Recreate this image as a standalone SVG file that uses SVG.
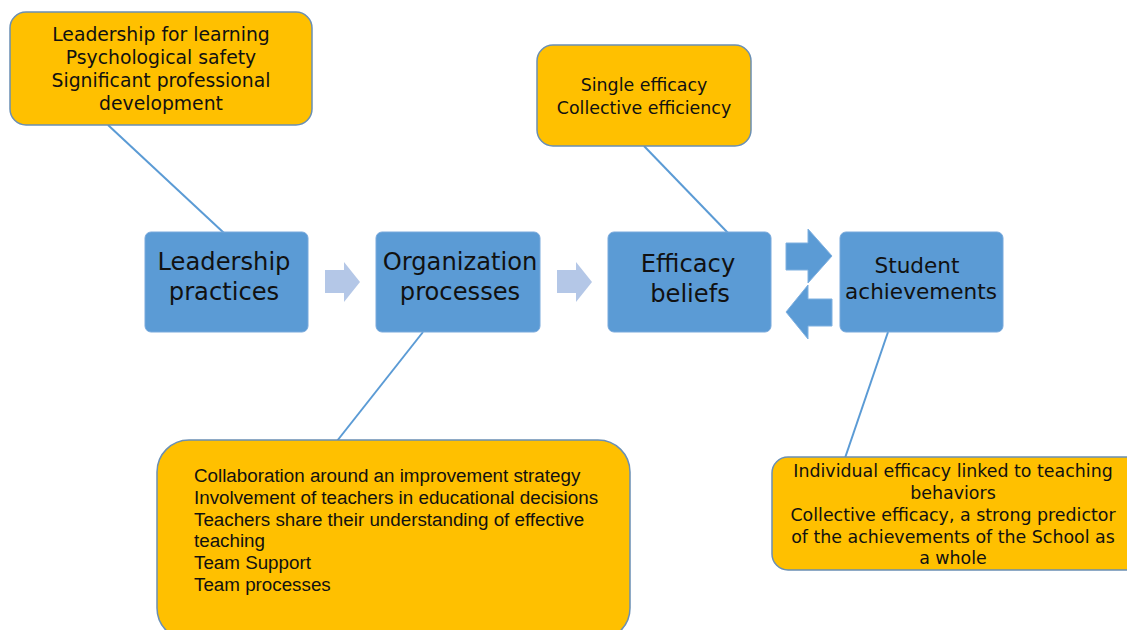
<svg xmlns="http://www.w3.org/2000/svg" width="1127" height="630" viewBox="0 0 1127 630">
<style>
.call{fill:#ffc000;stroke:#6a8fb4;stroke-width:1.5}
.box{fill:#5b9bd5;stroke:#79a9dc;stroke-width:1}
.t{font-family:"DejaVu Sans",sans-serif;fill:#111;text-anchor:middle}
.ta{font-family:"Liberation Sans",Arial,sans-serif;fill:#111;font-size:18.8px}
.conn line{stroke:#5b9bd5;stroke-width:2}
.la{fill:#b4c7e7}
.da{fill:#5b9bd5;stroke:#7fb0e0;stroke-width:1}
</style>
<rect width="1127" height="630" fill="#fff"/>
<g id="connectors" class="conn">
<line x1="108" y1="125" x2="224" y2="233"/>
<line x1="644" y1="146" x2="728" y2="233"/>
<line x1="423" y1="332" x2="337" y2="441"/>
<line x1="888" y1="332" x2="845" y2="458"/>
</g>
<g id="arrows">
<path class="la" d="M325 270 H344 V262 L360 282 L344 302 V293 H325 Z"/>
<path class="la" d="M557 270 H576 V262 L592 282 L576 302 V293 H557 Z"/>
<path class="da" d="M786 243 H808 V229 L832 256 L808 283 V270 H786 Z"/>
<path class="da" d="M832 299 H808 V285 L786 312 L808 339 V326 H832 Z"/>
</g>
<g id="n-leadership-callout">
<rect class="call" x="10" y="12" width="302" height="113" rx="16"/>
<text class="t" font-size="18.8"><tspan x="161" y="41">Leadership for learning</tspan><tspan x="161" y="64">Psychological safety</tspan><tspan x="161" y="87">Significant professional</tspan><tspan x="161" y="110">development</tspan></text>
</g>
<g id="n-leadership">
<rect class="box" x="145" y="232" width="163" height="100" rx="6"/>
<text class="t" font-size="24.2"><tspan x="224" y="270">Leadership</tspan><tspan x="224" y="300">practices</tspan></text>
</g>
<g id="n-organization">
<rect class="box" x="376" y="232" width="164" height="100" rx="6"/>
<text class="t" font-size="24.2"><tspan x="460" y="270">Organization</tspan><tspan x="460" y="300">processes</tspan></text>
</g>
<g id="n-efficacy">
<rect class="box" x="608" y="232" width="163" height="100" rx="6"/>
<text class="t" font-size="24.2"><tspan x="688" y="272">Efficacy</tspan><tspan x="690" y="302">beliefs</tspan></text>
</g>
<g id="n-student">
<rect class="box" x="840" y="232" width="163" height="100" rx="6"/>
<text class="t" font-size="21.6"><tspan x="917" y="273">Student</tspan><tspan x="921" y="299">achievements</tspan></text>
</g>
<g id="n-efficacy-callout">
<rect class="call" x="537" y="45" width="214" height="101" rx="16"/>
<text class="t" font-size="17.4"><tspan x="644" y="91">Single efficacy</tspan><tspan x="644" y="114">Collective efficiency</tspan></text>
</g>
<g id="n-organization-callout">
<rect class="call" x="157" y="440" width="473" height="200" rx="32"/>
<text class="ta"><tspan x="194" y="482">Collaboration around an improvement strategy</tspan><tspan x="194" y="504">Involvement of teachers in educational decisions</tspan><tspan x="194" y="526">Teachers share their understanding of effective</tspan><tspan x="194" y="547">teaching</tspan><tspan x="194" y="569">Team Support</tspan><tspan x="194" y="591">Team processes</tspan></text>
</g>
<g id="n-student-callout">
<rect class="call" x="772" y="457" width="370" height="113" rx="16"/>
<text class="t" font-size="17.4"><tspan x="953" y="477">Individual efficacy linked to teaching</tspan><tspan x="953" y="499">behaviors</tspan><tspan x="953" y="521">Collective efficacy, a strong predictor</tspan><tspan x="953" y="543">of the achievements of the School as</tspan><tspan x="953" y="564">a whole</tspan></text>
</g>
</svg>
